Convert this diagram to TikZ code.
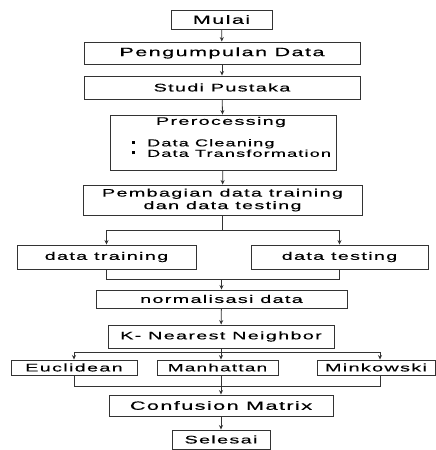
\documentclass[tikz,border=0pt]{standalone}
\usepackage{fontspec}
\setmainfont{Liberation Sans}[FakeStretch=1.8,LetterSpace=12,FakeBold=0.4]
\usetikzlibrary{arrows.meta}
\begin{document}
\begin{tikzpicture}[x=1pt,y=-1pt,
 box/.style={draw=black!80,line width=0.9pt,inner sep=0pt,align=center,font=\fontsize{11}{12.5}\selectfont},
 big/.style={font=\fontsize{12}{13}\selectfont},
 txt/.style={inner sep=0pt,font=\fontsize{11}{10.5}\selectfont},
 conn/.style={draw=black!80,line width=0.8pt},
 arr/.style={conn,-{Stealth[length=4.5pt,width=4pt]}}]
\useasboundingbox[fill=white] (0,0) rectangle (436,450);
\node[box,big,minimum width=101pt,minimum height=19pt] (mulai) at (221.5,19.5) {Mulai};
\node[box,big,minimum width=276pt,minimum height=22pt] (peng) at (222,53) {Pengumpulan Data};
\node[box,minimum width=276pt,minimum height=23pt] (studi) at (222,87.5) {Studi Pustaka};
\node[box,minimum width=226pt,minimum height=55pt] (prep) at (223,142.5) {};
\node[txt] (preptitle) at (221,122) {Prerocessing};
\node[txt,anchor=west,align=left,font=\fontsize{10}{10.5}\selectfont] (prepitems) at (132,148) {\makebox[15pt][l]{\rule[2.5pt]{3pt}{3pt}}Data Cleaning\\\makebox[15pt][l]{\rule[2.5pt]{3pt}{3pt}}Data Transformation};
\node[box,minimum width=279pt,minimum height=30pt] (pemb) at (222.5,200) {Pembagian data training\\dan data testing};
\node[box,minimum width=179pt,minimum height=24pt] (train) at (106.5,257) {data training};
\node[box,minimum width=177pt,minimum height=24pt] (test) at (339.5,257) {data testing};
\node[box,minimum width=251pt,minimum height=18pt] (norm) at (221.5,299) {normalisasi data};
\node[box,minimum width=226pt,minimum height=23pt] (knn) at (221,336.5) {K- Nearest Neighbor};
\node[box,minimum width=126pt,minimum height=15pt] (eucl) at (74,367.5) {Euclidean};
\node[box,minimum width=121pt,minimum height=15pt,font=\fontsize{10.5}{12}\selectfont] (manh) at (217.5,367.5) {Manhattan};
\node[box,minimum width=118pt,minimum height=15pt] (mink) at (376,367.5) {Minkowski};
\node[box,big,minimum width=224pt,minimum height=21pt] (conf) at (221,405.5) {Confusion Matrix};
\node[box,minimum width=98pt,minimum height=19pt] (sel) at (221,439.5) {Selesai};
% connectors
\draw[arr] (mulai) -- (peng);
\draw[arr] (peng) -- (studi);
\draw[arr] (studi) -- (prep);
\draw[arr] (prep) -- (pemb);
\draw[conn] (pemb.south) -- ++(0,15) coordinate (s1);
\draw[arr] (s1) -| (train.north);
\draw[arr] (s1) -| (test.north);
\draw[conn] (train.south) -- ++(0,10) coordinate (m1l) -| (test.south);
\draw[arr] (m1l -| norm.north) -- (norm.north);
\draw[arr] (norm) -- (knn);
\draw[conn] (knn.south) -- ++(0,4) coordinate (s2);
\draw[arr] (s2) -| (eucl.north);
\draw[arr] (s2) -| ([xshift=4pt]mink.north);
\draw[arr] (s2) -- (s2 |- manh.north);
\draw[conn] (eucl.south) -- ++(0,11) -| ([xshift=4pt]mink.south);
\draw[arr] (knn.south |- manh.south) -- (conf.north);
\draw[arr] (conf) -- (sel);
\end{tikzpicture}
\end{document}
